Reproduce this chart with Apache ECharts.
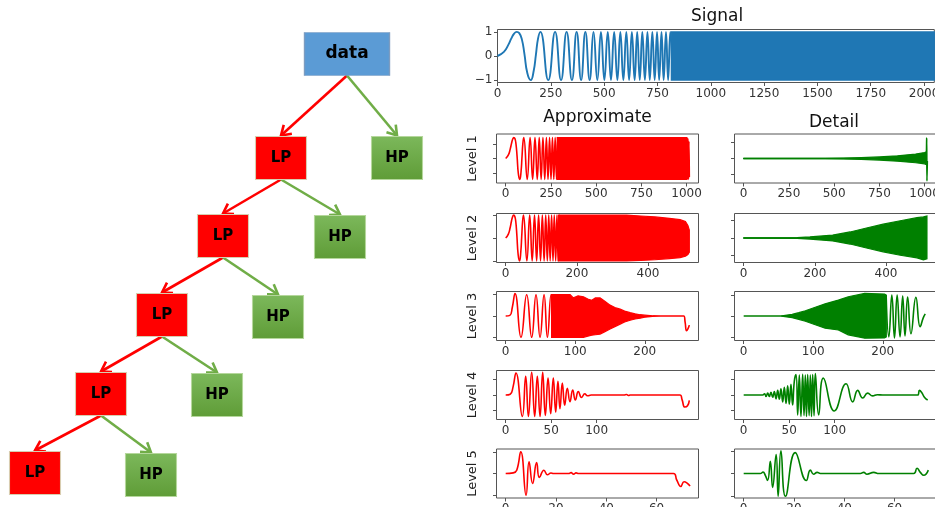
<!DOCTYPE html>
<html><head><meta charset="utf-8">
<script src="https://cdn.jsdelivr.net/npm/echarts@6/dist/echarts.min.js"></script>
<style>html,body{margin:0;padding:0;background:#fff}#c{width:935px;height:507px}</style>
</head><body><div id="c"></div>
<script>
// ================= DATA =================
// Tree diagram: labels, diagram coordinates (centre of each box), parent index
const treeLabels = ['data','LP','HP','LP','HP','LP','HP','LP','HP','LP','HP'];
const treeX      = [347, 281, 397, 223, 340, 162, 278, 101, 217, 35, 151];
const treeY      = [54, 158, 158, 236, 237, 315, 317, 394, 395, 473, 475];
const treeParent = [-1, 0, 0, 1, 1, 3, 3, 5, 5, 7, 7];

const sigLine = [[0,0],[30,0.17],[50,0.45],[65,0.73],[78,0.93],[90,1],[102,0.95],[114,0.7],[126,0.1],[140,-0.72],[156,-1],[170,-0.6],[180,0.05],[190,0.72],[201,1],[238,-1],[270,1],[298,-1],[324,1],[349,-1],[371,1],[392,-1],[412,1],[432,-1],[450,1],[468,-1],[485,1],[501,-1],[517,1],[532,-1],[547,1],[562,-1],[576,1],[590,-1],[604,1],[617,-1],[630,1],[643,-1],[655,1],[667,-1],[679,1],[691,-1],[703,1],[714,-1],[726,1],[737,-1],[748,1],[758,-1],[769,1],[779,-1],[790,1],[800,-1],[810,1],[820,-1]];
const sigBand = [[815,-1,1],[2048,-1,1]];
const sigTicks = [0,250,500,750,1000,1250,1500,1750,2000];

// Number of coefficients per level and the x tick labels
const levelLength = [1015, 516, 264, 202, 73];
const levelTicks = [[0,250,500,750,1000],[0,200,400],[0,100,200],[0,50,100],[0,20,40,60]];
const levelNames = ['Level 1','Level 2','Level 3','Level 4','Level 5'];

// Approximation coefficients
const a1Line = [[0,0],[15,0.25],[25,0.65],[32.5,1.06],[39,1.35],[45,1.45],[51,1.38],[57,1.0],[63,0.15],[70,-1.05],[78,-1.45],[85,-0.9],[90,0.07],[95,1.05],[100,1.45],[119,-1.45],[135,1.45],[149,-1.45],[162,1.45],[174.5,-1.45],[185.5,1.45],[196,-1.45],[206,1.45],[216,-1.45],[225,1.45],[234,-1.45],[242.5,1.45],[250.5,-1.45],[258.5,1.45],[266,-1.45],[273.5,1.45],[281,-1.45],[288,1.45],[295,-1.45],[300,'-'],[1000,1.45],[1004,-1.45],[1007,1.4],[1010,-1.45],[1013,1.2],[1015,-1.3]];
const a1Band = [[285,-1.45,1.45],[1000,-1.45,1.45]];
const a2Line = [[0,0],[7.5,0.17],[12.5,0.45],[16.2,0.73],[19.5,0.93],[22.5,1],[25.5,0.95],[28.5,0.7],[31.5,0.1],[35,-0.72],[39,-1],[42.5,-0.6],[45,0.05],[47.5,0.72],[50,1],[59.5,-1],[67.5,1],[74.5,-1],[81,1],[87,-1],[92.5,1],[98,-1],[103,1],[108,-1],[112.5,1],[117,-1],[121,1],[125,-1],[129,1],[133,-1],[136.5,1],[140.5,-1],[144,1],[147.5,-1],[151,1],[154.5,-1]];
const a2Band = [[148,-1,1],[340,-1,1],[380,-0.98,0.96],[420,-0.95,0.92],[460,-0.9,0.86],[490,-0.86,0.8],[505,-0.8,0.72],[512,-0.72,0.55],[516,-0.62,0.35]];
const a3Line = [[0,0],[6,0.03],[9.5,0.4],[13.4,1.05],[22,-1.0],[30.2,1.0],[37.4,-1.0],[43.6,1.0],[49.4,-1.0],[55.2,1.0],[60,-1.0],[65.2,1.0],[70,-1.0],[72,'-'],[212,0],[256,0],[258,-0.3],[260,-0.69],[262,-0.6],[264,-0.43]];
const a3Band = [[66,-1,1],[92.6,-1,1],[97.4,-1,0.85],[104,-1,0.95],[111.8,-1,0.9],[118,-0.95,0.8],[123.7,-0.9,0.74],[129,-0.88,0.85],[135.7,-0.85,0.85],[142,-0.75,0.7],[150.1,-0.61,0.51],[157,-0.5,0.4],[164.5,-0.38,0.32],[171,-0.28,0.23],[178.9,-0.2,0.155],[186,-0.14,0.1],[193.3,-0.1,0.06],[200,-0.06,0.04],[207.7,-0.03,0.02],[215,0,0]];
const a4Line = [[0,0],[5,0.05],[8,0.5],[11.3,1.44],[18.3,-1.4],[22,1.22],[25,-1.4],[28.6,1.49],[31.9,-1.4],[34.8,1.22],[37.8,-1.4],[40.7,1.49],[43.6,-1.33],[46.6,1.11],[49.5,-1.22],[52.4,1.11],[55,-1.11],[57.5,0.89],[59.7,-0.89],[62.3,0.78],[64.9,-0.67],[67.8,0.44],[70.7,-0.44],[73.7,0.33],[76.6,-0.33],[79.9,0.22],[83.5,-0.16],[87,0.08],[90,-0.05],[94,0],[130,0],[133,0.03],[135,-0.03],[137,0],[191.7,0],[194,-0.3],[197,-0.78],[200,-0.7],[202,-0.35]];
const a5Line = [[0,0],[3,0.03],[4.4,0.15],[6,1.0],[8.1,-1.0],[9.3,0.54],[10.7,-0.46],[12.3,0.5],[13.4,-0.18],[15.2,0.15],[16.6,-0.06],[18,0.02],[19,0],[25,0],[26,0.04],[27,-0.03],[28,0.03],[29,0],[66.7,0],[68,-0.3],[69.6,-0.6],[70.9,-0.38],[72,-0.43],[73.3,-0.58]];

// Detail coefficients
const d1Line = [[0,0],[1008,0],[1010,0.3],[1011.5,1.3],[1013,-1.42],[1015,-0.15]];
const d1Band = [[0,-0.01,0.01],[450,-0.015,0.015],[550,-0.03,0.03],[650,-0.055,0.055],[750,-0.1,0.1],[850,-0.17,0.17],[950,-0.27,0.28],[1000,-0.34,0.38],[1009,-0.38,0.42]];
const d2Line = [[0,0],[515,0]];
const d2Band = [[0,-0.01,0.01],[150,-0.02,0.02],[186,-0.06,0.06],[250,-0.17,0.17],[299,-0.35,0.35],[345,-0.58,0.58],[392,-0.8,0.8],[440,-1.0,1.0],[487,-1.15,1.18],[505,-1.27,1.22],[515,-1.2,1.27]];
const d3Line = [[0,0],[56,0],[58,'-'],[204.8,1.0],[208.7,-1.0],[213,1.0],[216.8,-1.05],[220.6,1.0],[224.8,-1.0],[228.6,0.95],[231.9,-0.95],[235.7,0.9],[240.5,-0.85],[247.6,0.89],[253.7,-0.51],[258,-0.1],[261,0.1]];
const d3Band = [[55,-0.01,0.01],[69.7,-0.08,0.08],[79.2,-0.16,0.16],[88.7,-0.25,0.25],[102.9,-0.42,0.42],[117.1,-0.58,0.58],[136.1,-0.67,0.76],[150.3,-0.9,0.92],[174,-1.06,1.08],[202.5,-1.05,1.05],[205,-1.0,1.0]];
const d4Line = [[0,0],[20.9,0],[23,0.08],[24.6,-0.1],[26.4,0.12],[28.2,-0.1],[30,0.18],[31.9,-0.15],[33.7,0.22],[35.6,-0.25],[37.4,0.3],[39.2,-0.28],[41,0.4],[42.9,-0.45],[44.7,0.5],[46.6,-0.55],[48.4,0.6],[50.2,-0.6],[52,0.7],[53.8,-0.65],[55.7,0.9],[57.6,1.33],[59.4,-1.3],[61.2,1.3],[63,-1.4],[64.9,1.35],[66.4,-1.35],[67.8,1.3],[69.1,-1.4],[70.4,1.33],[72,-1.35],[73.3,1.3],[74.6,-1.4],[75.9,1.33],[77.4,-1.35],[78.8,1.4],[82.5,-1.3],[87.6,1.1],[99.7,-1.04],[112.6,0.73],[119.9,-0.45],[125.4,0.3],[130.9,-0.2],[136.4,0.12],[141.9,-0.06],[147,0.02],[152.9,0],[191.4,0],[193.3,0.3],[196,0.15],[198.8,-0.15],[202.4,-0.33]];
const d5Line = [[0,0],[6.6,0],[7.7,0.06],[8.6,-0.08],[9.5,-0.31],[10.6,0.54],[11.5,-0.62],[12.9,0.84],[13.7,-1.0],[14.8,1.0],[16.6,-1.0],[20.5,0.92],[24.9,-0.31],[26.5,0.15],[27.8,-0.03],[29.2,0.05],[30.5,0],[46.4,0],[47.7,0.05],[49,-0.03],[51.7,0.05],[53.7,0],[67.6,0],[68.9,0.23],[70.2,0.05],[71.6,-0.08],[73.4,0.15]];

// ================= LAYOUT / STYLE =================
const RED = '#ff0000', GREEN = '#008000', BLUE = '#1f77b4';
const APPROX_LEFT = 496.5, DETAIL_LEFT = 734.5, PANEL_W = 202, PANEL_H = 49;
const PANEL_TOPS = [134, 213.5, 291.5, 370.5, 449];
const approxYR = [1.7, 1.07, 1.15, 1.6, 1.13];
const detailYR = [1.55, 1.42, 1.17, 1.6, 1.08];
const FONT = 'DejaVu Sans';

const grids = [], xAxes = [], yAxes = [], series = [];
const fmt = v => (v < 0 ? '\u2212' + Math.abs(v) : String(v));

function bandSeries(i, band, color) {
  return {
    type: 'custom', xAxisIndex: i, yAxisIndex: i, clip: true, silent: true,
    data: [[band[0][0], 0]],
    renderItem: (params, api) => {
      const pts = [];
      for (const b of band) pts.push(api.coord([b[0], b[2]]));
      for (let j = band.length - 1; j >= 0; j--) pts.push(api.coord([band[j][0], band[j][1]]));
      return { type: 'polygon', shape: { points: pts }, style: { fill: color, stroke: color, lineWidth: 1.2 } };
    }
  };
}

function addPanel(cfg) {
  const i = grids.length;
  grids.push({ left: cfg.left, top: cfg.top, width: cfg.width, height: cfg.height, show: true,
    containLabel: false, outerBoundsMode: 'none',
    borderColor: '#555', borderWidth: 1, backgroundColor: 'transparent' });
  xAxes.push({ type: 'value', gridIndex: i, min: cfg.xmin, max: cfg.xmax,
    axisLine: { show: false, onZero: false }, splitLine: { show: false },
    axisTick: { show: true, customValues: cfg.xticks, length: 3.5, lineStyle: { color: '#555', width: 1 } },
    axisLabel: { show: true, customValues: cfg.xticks, margin: 5, color: '#333', fontSize: 12, fontFamily: FONT, formatter: fmt } });
  yAxes.push({ type: 'value', gridIndex: i, min: -cfg.yr, max: cfg.yr,
    axisLine: { show: false, onZero: false }, splitLine: { show: false },
    axisTick: { show: true, customValues: [-1, 0, 1], length: 3.5, lineStyle: { color: '#555', width: 1 } },
    axisLabel: { show: !!cfg.ylabels, customValues: [-1, 0, 1], margin: 5, color: '#333', fontSize: 12, fontFamily: FONT, formatter: fmt },
    name: cfg.name || '', nameLocation: 'middle', nameGap: 17,
    nameTextStyle: { fontSize: 13, fontFamily: FONT, color: '#222' } });
  (cfg.bands || []).forEach(b => series.push(bandSeries(i, b, cfg.color)));
  (cfg.lines || []).forEach(l => series.push({ type: 'line', xAxisIndex: i, yAxisIndex: i, data: l,
    showSymbol: false, symbol: 'none', smooth: 0.5, connectNulls: false,
    lineStyle: { color: cfg.color, width: cfg.lw || 1.7 }, clip: true, silent: true }));
}

// Signal panel
addPanel({ left: 497.5, top: 29.5, width: 436.8, height: 53, xmin: 0, xmax: 2048, xticks: sigTicks,
  yr: 1.1, ylabels: true, color: BLUE, lw: 1.9, lines: [sigLine], bands: [sigBand] });

const approxLines = [a1Line, a2Line, a3Line, a4Line, a5Line];
const approxBands = [[a1Band], [a2Band], [a3Band], [], []];
const detailLines = [[d1Line], [d2Line], [d3Line], [d4Line], [d5Line]];
const detailBands = [[d1Band], [d2Band], [d3Band], [], []];

for (let k = 0; k < 5; k++) {
  const n = levelLength[k];
  const common = { width: PANEL_W, height: PANEL_H, top: PANEL_TOPS[k], xmin: -0.05 * n, xmax: 1.05 * n, xticks: levelTicks[k], lw: 1.6 };
  addPanel(Object.assign({}, common, { left: APPROX_LEFT, yr: approxYR[k], color: RED, name: levelNames[k],
    lines: [approxLines[k]], bands: approxBands[k] }));
  addPanel(Object.assign({}, common, { left: DETAIL_LEFT, yr: detailYR[k], color: GREEN,
    lines: detailLines[k], bands: detailBands[k] }));
}

// Tree diagram grid (diagram units = 1 px)
const T = grids.length;
grids.push({ left: 0, top: 0, width: 470, height: 507, show: false, containLabel: false, outerBoundsMode: 'none' });
xAxes.push({ type: 'value', gridIndex: T, min: 0, max: 470, show: false });
yAxes.push({ type: 'value', gridIndex: T, min: 0, max: 507, inverse: true, show: false });
const NODE_H = 43;

const edgeData = [];
for (let k = 1; k < treeLabels.length; k++) {
  const p = treeParent[k];
  edgeData.push([treeX[p], treeY[p] + NODE_H / 2, treeX[k], treeY[k] - NODE_H / 2 - 1, treeLabels[k] === 'LP' ? 0 : 1]);
}
series.push({ type: 'custom', xAxisIndex: T, yAxisIndex: T, data: edgeData, silent: true, z: 2,
  renderItem: (params, api) => {
    const a = api.coord([api.value(0), api.value(1)]);
    const b = api.coord([api.value(2), api.value(3)]);
    const col = api.value(4) === 0 ? '#ff0000' : '#70ad47';
    const dx = b[0] - a[0], dy = b[1] - a[1], len = Math.hypot(dx, dy);
    const ux = -dx / len, uy = -dy / len, L = 11, t = 0.58;
    const r = s => [ux * Math.cos(s) - uy * Math.sin(s), ux * Math.sin(s) + uy * Math.cos(s)];
    const r1 = r(t), r2 = r(-t);
    return { type: 'group', children: [
      { type: 'line', shape: { x1: a[0], y1: a[1], x2: b[0], y2: b[1] }, style: { stroke: col, lineWidth: 2.6 } },
      { type: 'polyline', shape: { points: [[b[0] + r1[0] * L, b[1] + r1[1] * L], b, [b[0] + r2[0] * L, b[1] + r2[1] * L]] },
        style: { stroke: col, lineWidth: 2.6, fill: null } }
    ] };
  } });

function nodeSeries(pred, size, itemStyle, fontSize) {
  const data = [];
  treeLabels.forEach((n, k) => { if (pred(n, k)) data.push({ name: n, value: [treeX[k], treeY[k]] }); });
  return { type: 'scatter', xAxisIndex: T, yAxisIndex: T, symbol: 'rect', symbolSize: size, data, itemStyle, z: 3, silent: true,
    label: { show: true, position: 'inside', formatter: '{b}', color: '#000', fontWeight: 'bold', fontSize, fontFamily: FONT } };
}
series.push(nodeSeries((n, k) => k === 0, [85, 43], { color: '#5b9bd5', borderColor: '#7d9cc0', borderWidth: 1, opacity: 1 }, 17));
series.push(nodeSeries((n, k) => n === 'LP', [51, 43], { color: '#ff0000', borderColor: '#d8cdb0', borderWidth: 1, opacity: 1 }, 15));
series.push(nodeSeries((n, k) => n === 'HP', [51, 43], {
  color: { type: 'linear', x: 0, y: 0, x2: 0, y2: 1, colorStops: [{ offset: 0, color: '#7cb85b' }, { offset: 1, color: '#5f9c37' }] },
  borderColor: '#b5d79c', borderWidth: 1, opacity: 1 }, 15));

const chart = echarts.init(document.getElementById('c'), null, { renderer: 'canvas' });
chart.setOption({
  backgroundColor: '#fff',
  animation: false,
  grid: grids, xAxis: xAxes, yAxis: yAxes, series,
  graphic: [
    { type: 'text', x: 717, y: 17, style: { text: 'Signal', fontSize: 17, fontFamily: FONT, fill: '#111', align: 'center', verticalAlign: 'middle' } },
    { type: 'text', x: 597.5, y: 118, style: { text: 'Approximate', fontSize: 17, fontFamily: FONT, fill: '#111', align: 'center', verticalAlign: 'middle' } },
    { type: 'text', x: 834, y: 123, style: { text: 'Detail', fontSize: 17, fontFamily: FONT, fill: '#111', align: 'center', verticalAlign: 'middle' } }
  ]
});
</script></body></html>
